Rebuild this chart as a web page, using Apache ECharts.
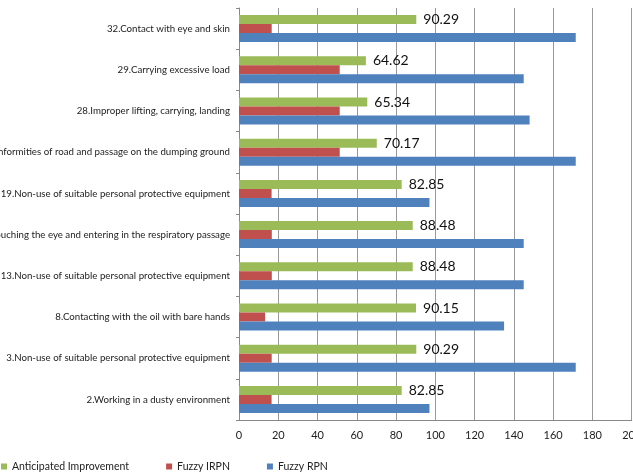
<!DOCTYPE html>
<html><head><meta charset="utf-8">
<script src="https://cdn.jsdelivr.net/npm/echarts@6/dist/echarts.min.js"></script>
<style>html,body{margin:0;padding:0;background:#fff}#c{width:633px;height:473px}</style>
</head><body><div id="c"></div>
<script>
const categories = [
  "2.Working in a dusty environment",
  "3.Non-use of suitable personal protective equipment",
  "8.Contacting with the oil with bare hands",
  "13.Non-use of suitable personal protective equipment",
  "14.Dust touching the eye and entering in the respiratory passage",
  "19.Non-use of suitable personal protective equipment",
  "25.Nonconformities of road and passage on the dumping ground",
  "28.Improper lifting, carrying, landing",
  "29.Carrying excessive load",
  "32.Contact with eye and skin"
];
const anticipatedImprovement = [82.85, 90.29, 90.15, 88.48, 88.48, 82.85, 70.17, 65.34, 64.62, 90.29];
const fuzzyIRPN = [16.6, 16.65, 13.3, 16.7, 16.7, 16.6, 51.3, 51.3, 51.3, 16.65];
const fuzzyRPN = [97, 171.5, 135, 145, 145, 97, 171.5, 148, 145, 171.5];
const xTicks = {min: 0, max: 200, interval: 20};

const font = "Lato, 'Open Sans', sans-serif";
const chart = echarts.init(document.getElementById('c'), null, {renderer: 'canvas'});
chart.setOption({
  animation: false,
  textStyle: {fontFamily: font},
  grid: {left: 239, right: 1.3, top: 8, bottom: 53, containLabel: false, outerBoundsMode: 'none'},
  legend: {
    bottom: 1, left: 1, padding: 0, itemWidth: 6, itemHeight: 6, itemGap: 37, icon: 'rect',
    textStyle: {fontSize: 10.5, color: '#222', fontFamily: font},
    data: ['Anticipated Improvement', 'Fuzzy IRPN', 'Fuzzy RPN']
  },
  xAxis: {
    type: 'value', min: xTicks.min, max: xTicks.max, interval: xTicks.interval,
    axisLine: {show: true, lineStyle: {color: '#888'}},
    axisTick: {show: false},
    splitLine: {show: true, lineStyle: {color: '#999', width: 1}},
    axisLabel: {fontSize: 11, color: '#222', margin: 10, fontFamily: font}
  },
  yAxis: {
    type: 'category', data: categories,
    axisLine: {show: true, lineStyle: {color: '#888'}},
    axisTick: {show: true, length: 3, lineStyle: {color: '#888'}},
    axisLabel: {fontSize: 9.7, color: '#222', margin: 9, fontFamily: font}
  },
  series: [
    {name: 'Anticipated Improvement', type: 'bar', data: anticipatedImprovement,
     itemStyle: {color: '#9BBB59'}, barWidth: 9, barGap: '0%', barCategoryGap: '34%',
     label: {show: true, position: 'right', distance: 7, fontSize: 14, color: '#111', fontFamily: font,
             formatter: p => p.value.toFixed(2)}},
    {name: 'Fuzzy IRPN', type: 'bar', data: fuzzyIRPN, itemStyle: {color: '#C0504D'}, barWidth: 9, barGap: '0%'},
    {name: 'Fuzzy RPN', type: 'bar', data: fuzzyRPN, itemStyle: {color: '#4F81BD'}, barWidth: 9, barGap: '0%'}
  ]
});
</script></body></html>
